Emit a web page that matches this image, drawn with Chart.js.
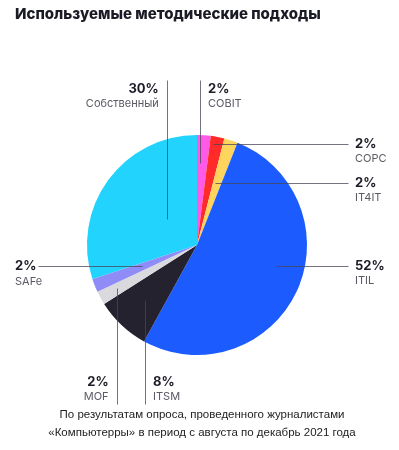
<!DOCTYPE html>
<html>
<head>
<meta charset="utf-8">
<script src="https://cdn.jsdelivr.net/npm/chart.js@4/dist/chart.umd.min.js"></script>
<style>
  body { margin: 0; background: #fff; }
  canvas { display: block; }
</style>
</head>
<body>
<canvas id="pie-chart" width="399" height="450"></canvas>
<script>
// data, clockwise from 12 o'clock
const categories = ['COBIT', 'COPC', 'IT4IT', 'ITIL', 'ITSM', 'MOF', 'SAFe', 'Собственный'];
const shares = [2, 2, 2, 52, 8, 2, 2, 30];
const sliceColors = ['#ff5ae6', '#ff2b2b', '#fdd45c', '#1c5cff', '#24222f', '#d9d9de', '#8f8cf7', '#22d3fd'];
const titleText = 'Используемые методические подходы';
const footerLines = [
    'По результатам опроса, проведенного журналистами',
    '«Компьютерры» в период с августа по декабрь 2021 года'
];

// where each leader line starts inside its slice and where it goes
// t = fraction of the slice angle, rf = fraction of radius
const leaders = [
    { dir: 'up', t: 0.29, rf: 0.75, side: 'right' },
    { dir: 'right', t: 0.25, rf: 0.93 },
    { dir: 'right', t: 0.25, rf: 0.59 },
    { dir: 'right', t: 0.445, rf: 0.74 },
    { dir: 'down', t: 0.5, rf: 0.69, side: 'right' },
    { dir: 'down', t: 0.57, rf: 0.83, side: 'left' },
    { dir: 'left', t: 0.58, rf: 0.54 },
    { dir: 'up', t: 0.54, rf: 0.36, side: 'left' }
];

const pctFont = 'bold 13px Inter, sans-serif';
const nameFont = '11px Inter, sans-serif';

const labelsPlugin = {
    id: 'labels',
    afterDraw(chart) {
        const c = chart.ctx;
        const meta = chart.getDatasetMeta(0);
        c.save();

        // title
        c.fillStyle = '#1b1b26';
        c.font = '800 15px Inter, sans-serif';
        c.textAlign = 'left';
        c.textBaseline = 'middle';
        c.fillText(titleText, 15, 14);

        meta.data.forEach((arc, i) => {
            const p = arc.getProps(['x', 'y', 'startAngle', 'endAngle', 'outerRadius'], true);
            const L = leaders[i];
            const a = p.startAngle + (p.endAngle - p.startAngle) * L.t;
            const ax = p.x + Math.cos(a) * p.outerRadius * L.rf;
            const ay = p.y + Math.sin(a) * p.outerRadius * L.rf;
            let ex = ax, ey = ay, tx, ty, align;
            if (L.dir === 'right') { ex = 348; tx = 355; ty = ay; align = 'left'; }
            if (L.dir === 'left') { ex = 38; tx = 15; ty = ay; align = 'left'; }
            if (L.dir === 'up') { ey = 80; ty = 89; }
            if (L.dir === 'down') { ey = 404; ty = 382; }
            if (L.dir === 'up' || L.dir === 'down') {
                tx = L.side === 'left' ? ax - 8 : ax + 8;
                align = L.side === 'left' ? 'right' : 'left';
            }

            c.strokeStyle = 'rgba(70,70,85,0.75)';
            c.lineWidth = 1;
            c.beginPath();
            c.moveTo(Math.round(ax) + 0.5, Math.round(ay) + 0.5);
            c.lineTo(Math.round(ex) + 0.5, Math.round(ey) + 0.5);
            c.stroke();

            c.textAlign = align;
            c.textBaseline = 'middle';
            c.fillStyle = '#1d1d28';
            c.font = pctFont;
            c.fillText(shares[i] + '%', tx, ty);
            c.fillStyle = '#5a5a64';
            c.font = nameFont;
            c.fillText(categories[i], tx, ty + 15);
        });

        // footer
        c.fillStyle = '#222';
        c.font = '11.5px "Liberation Sans", Arial, sans-serif';
        c.textAlign = 'center';
        c.textBaseline = 'middle';
        footerLines.forEach((line, k) => c.fillText(line, 202, 415 + k * 18));
        c.restore();
    }
};

const ctx = document.getElementById('pie-chart').getContext('2d');
new Chart(ctx, {
    type: 'pie',
    data: {
        labels: categories,
        datasets: [{
            data: shares,
            backgroundColor: sliceColors,
            borderWidth: 0
        }]
    },
    options: {
        responsive: false,
        animation: false,
        layout: {
            padding: { left: 87, right: 92, top: 135, bottom: 95 }
        },
        plugins: {
            legend: { display: false },
            tooltip: { enabled: false }
        }
    },
    plugins: [labelsPlugin]
});
</script>
</body>
</html>
